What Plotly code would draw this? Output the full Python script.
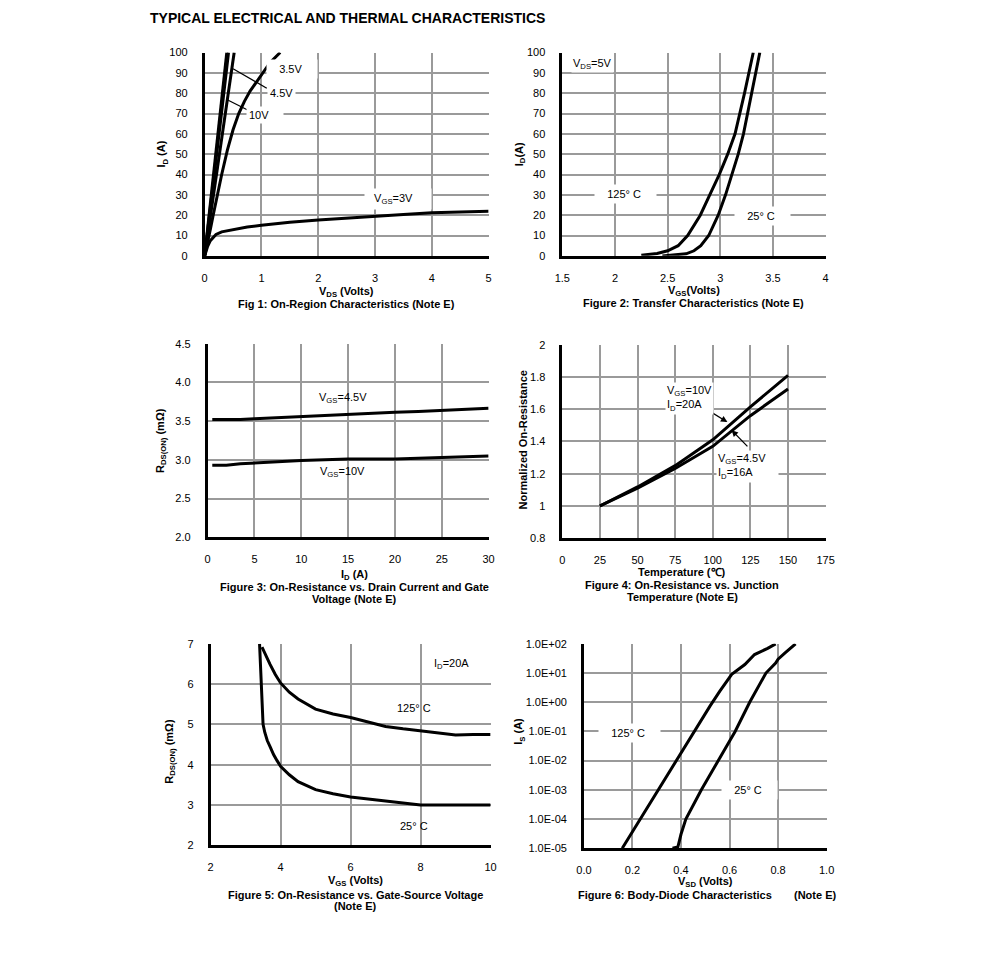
import plotly.graph_objects as go

W, H = 991, 955          # browser window
M = 8                    # default page body margin
FW, FH = W - 2 * M, H - 2 * M   # figure size so the page does not overflow
FONT = "Liberation Sans, Arial, sans-serif"

# ---------------- data ----------------
# Fig 1: On-region characteristics
f1_vds_3v = [0, 0.05, 0.1, 0.2, 0.3, 0.5, 0.75, 1.0, 1.5, 2, 2.5, 3, 3.5, 4, 4.5, 5]
f1_id_3v = [0, 4.5, 7.5, 10.5, 11.8, 13.0, 14.2, 15.0, 16.5, 17.6, 18.6, 19.5, 20.4, 21.2, 21.7, 22.0]
f1_vds_35v = [0, 0.05, 0.1, 0.15, 0.2, 0.3, 0.4, 0.5, 0.6, 0.7, 0.8, 0.9, 1.0, 1.15, 1.33]
f1_id_35v = [0, 6, 13, 20, 27, 40, 52, 62, 70, 76, 81, 85, 89, 95, 100]
f1_vds_45v = [0, 0.1, 0.2, 0.3, 0.4, 0.52]
f1_id_45v = [0, 19, 39, 58, 77, 100]
f1_vds_6v = [0, 0.1, 0.2, 0.3, 0.42]
f1_id_6v = [0, 23, 47, 71, 100]
f1_vds_10v = [0, 0.1, 0.2, 0.3, 0.39]
f1_id_10v = [0, 25, 51, 77, 100]

# Fig 2: Transfer characteristics
f2_vgs_125 = [2.25, 2.4, 2.5, 2.6, 2.69, 2.81, 2.9, 2.99, 3.07, 3.14, 3.23, 3.313]
f2_id_125 = [0.3, 1.2, 2.5, 5, 10, 20, 30, 40, 50, 60, 80, 100]
f2_vgs_25 = [2.45, 2.52, 2.6, 2.675, 2.75, 2.815, 2.89, 2.98, 3.05, 3.11, 3.17, 3.22, 3.30, 3.375]
f2_id_25 = [0, 0.3, 0.6, 1, 2.5, 5, 10, 20, 30, 40, 50, 60, 80, 100]

# Fig 3: On-resistance vs drain current
f3_id = [0.5, 2, 3.5, 5, 7.5, 10, 12.5, 15, 17.5, 20, 22.5, 25, 27.5, 30]
f3_r_45v = [3.52, 3.52, 3.52, 3.53, 3.545, 3.56, 3.575, 3.59, 3.60, 3.615, 3.625, 3.64, 3.65, 3.665]
f3_r_10v = [2.93, 2.93, 2.95, 2.96, 2.975, 2.99, 3.0, 3.01, 3.01, 3.01, 3.02, 3.03, 3.04, 3.05]

# Fig 4: Normalized on-resistance vs temperature
f4_temp = [25, 50, 75, 100, 125, 150]
f4_n_10v = [1.0, 1.118, 1.25, 1.41, 1.615, 1.81]
f4_n_45v = [1.0, 1.11, 1.232, 1.37, 1.56, 1.725]

# Fig 5: On-resistance vs gate-source voltage
f5_vgs_25 = [3.40, 3.44, 3.47, 3.50, 3.55, 3.62, 3.7, 3.8, 3.9, 4.0, 4.25, 4.5, 5.0, 5.5, 6.0, 7.0, 8.0, 9.0, 10.0]
f5_r_25 = [7.0, 6.3, 5.7, 5.0, 4.8, 4.6, 4.45, 4.25, 4.1, 3.96, 3.75, 3.58, 3.38, 3.28, 3.2, 3.1, 3.0, 3.0, 3.0]
f5_vgs_125 = [3.47, 3.6, 3.7, 3.85, 4.0, 4.25, 4.5, 5.0, 5.5, 6.0, 6.5, 7.0, 7.5, 8.0, 8.5, 9.0, 9.5, 10.0]
f5_r_125 = [6.92, 6.67, 6.49, 6.24, 6.03, 5.8, 5.63, 5.38, 5.26, 5.17, 5.06, 4.95, 4.89, 4.84, 4.78, 4.74, 4.75, 4.75]

# Fig 6: Body-diode characteristics
f6_vsd_125 = [0.158, 0.232, 0.306, 0.38, 0.454, 0.52, 0.56, 0.609, 0.663, 0.703, 0.757, 0.79]
f6_is_125 = [1e-5, 1e-4, 1e-3, 1e-2, 0.1, 0.75, 2.4, 9, 19.6, 43, 70, 100]
f6_vsd_25 = [0.365, 0.387, 0.40, 0.42, 0.484, 0.555, 0.623, 0.683, 0.75, 0.79, 0.80, 0.83, 0.86, 0.872]
f6_is_25 = [1e-5, 1.1e-5, 3e-5, 1e-4, 1e-3, 1e-2, 0.1, 1, 10, 22, 30, 50, 80, 100]
f6_ytickvals = [1e-5, 1e-4, 1e-3, 1e-2, 1e-1, 1e0, 1e1, 1e2]
f6_yticktext = ["1.0E-05", "1.0E-04", "1.0E-03", "1.0E-02", "1.0E-01", "1.0E+00", "1.0E+01", "1.0E+02"]

# ---------------- layout helpers ----------------
def fx(px):
    return (px - M) / FW

def fy(py):
    return 1 - (py - M) / FH

# plot-area boxes in window pixels: (left, right, top, bottom)
boxes = {
    1: (200, 489, 47, 253),
    2: (564, 832, 47, 253),
    3: (203, 489, 342, 538),
    4: (564, 832, 343, 539),
    5: (206, 491, 646, 850),
    6: (586, 833, 646, 853),
}

fig = go.Figure()
LW = 3

def add_line(n, x, y, name):
    fig.add_trace(go.Scatter(x=x, y=y, mode="lines", name=name,
                             line=dict(color="black", width=LW),
                             xaxis=f"x{n}", yaxis=f"y{n}", showlegend=False,
                             hoverinfo="skip"))

add_line(1, f1_vds_3v, f1_id_3v, "3V")
add_line(1, f1_vds_35v, f1_id_35v, "3.5V")
add_line(1, f1_vds_45v, f1_id_45v, "4.5V")
add_line(1, f1_vds_6v, f1_id_6v, "6V")
add_line(1, f1_vds_10v, f1_id_10v, "10V")
add_line(2, f2_vgs_125, f2_id_125, "125C")
add_line(2, f2_vgs_25, f2_id_25, "25C")
add_line(3, f3_id, f3_r_45v, "4.5V")
add_line(3, f3_id, f3_r_10v, "10V")
add_line(4, f4_temp, f4_n_10v, "10V")
add_line(4, f4_temp, f4_n_45v, "4.5V")
add_line(5, f5_vgs_25, f5_r_25, "25C")
add_line(5, f5_vgs_125, f5_r_125, "125C")
add_line(6, f6_vsd_125, f6_is_125, "125C")
add_line(6, f6_vsd_25, f6_is_25, "25C")

GRID = "#9a9a9a"
TICKFONT = dict(family=FONT, size=11, color="black")

def axes(n, xr, xd, yr, yd, xfmt=None, yfmt=None, ylog=False, ytv=None, ytt=None):
    l, r, t, b = boxes[n]
    xa = dict(domain=[fx(l), fx(r)], range=xr, dtick=xd, tick0=xr[0],
              showgrid=True, gridcolor=GRID, gridwidth=1.6,
              showline=True, linecolor="black", linewidth=2.5,
              zeroline=False, ticks="", tickfont=TICKFONT,
              anchor=f"y{n}", fixedrange=True, ticklabelstandoff=10)
    ya = dict(domain=[fy(b), fy(t)], range=yr,
              showgrid=True, gridcolor=GRID, gridwidth=1.6,
              showline=True, linecolor="black", linewidth=2.5,
              zeroline=False, ticks="", tickfont=TICKFONT,
              anchor=f"x{n}", fixedrange=True, ticklabelstandoff=12)
    if xfmt:
        xa["tickformat"] = xfmt
    if ylog:
        ya["type"] = "log"
        ya["tickvals"] = ytv
        ya["ticktext"] = ytt
    else:
        ya["dtick"] = yd
        ya["tick0"] = yr[0]
    if yfmt:
        ya["tickformat"] = yfmt
    key = "" if n == 1 else str(n)
    fig.update_layout(**{f"xaxis{key}": xa, f"yaxis{key}": ya})

axes(1, [0, 5], 1, [0, 100], 10)
axes(2, [1.5, 4], 0.5, [0, 100], 10)
axes(3, [0, 30], 5, [2.0, 4.5], 0.5, yfmt=".1f")
axes(4, [0, 175], 25, [0.8, 2.0], 0.2)
axes(5, [2, 10], 2, [2, 7], 1)
axes(6, [0, 1.0], 0.2, [-5, 2], None, xfmt=".1f", ylog=True, ytv=f6_ytickvals, ytt=f6_yticktext)

ann = []

def label(n, x, y, text, bg=True, xanchor="center", align="center", pad=3):
    ann.append(dict(x=x, y=y, xref=f"x{n}", yref=f"y{n}", text=text, showarrow=False,
                    font=dict(family=FONT, size=11, color="black"),
                    bgcolor="white" if bg else None, borderpad=pad,
                    xanchor=xanchor, align=align))

def paper_text(px, py, text, size=11, bold=True, angle=0, xanchor="center"):
    ann.append(dict(x=fx(px), y=fy(py), xref="paper", yref="paper",
                    text=f"<b>{text}</b>" if bold else text, showarrow=False,
                    textangle=angle, xanchor=xanchor, yanchor="middle",
                    font=dict(family=FONT, size=size, color="black")))

# Fig 1 labels
label(1, 1.54, 91.7, "&nbsp;&nbsp;&nbsp;3.5V&nbsp;&nbsp;&nbsp;&nbsp;")
ann.append(dict(x=0.50, y=92, ax=1.12, ay=82, xref="x1", yref="y1", axref="x1", ayref="y1",
                showarrow=True, arrowhead=0, arrowwidth=1.3, arrowcolor="black", text=""))
ann.append(dict(x=0.38, y=77, ax=0.88, ay=70, xref="x1", yref="y1", axref="x1", ayref="y1",
                showarrow=True, arrowhead=0, arrowwidth=1.3, arrowcolor="black", text=""))
label(1, 1.35, 80, "4.5V", pad=2)
label(1, 1.07, 69.4, "10V&nbsp;&nbsp;&nbsp;&nbsp;", pad=2)
label(1, 3.41, 28, "&nbsp;&nbsp;V<sub>GS</sub>=3V&nbsp;&nbsp;&nbsp;&nbsp;&nbsp;")

# Fig 2 labels
label(2, 1.79, 94.5, "V<sub>DS</sub>=5V", pad=1)
label(2, 2.10, 30.6, "&nbsp;&nbsp;&nbsp;125° C&nbsp;&nbsp;&nbsp;&nbsp;")
label(2, 3.40, 19.4, "&nbsp;&nbsp;&nbsp;25° C&nbsp;&nbsp;&nbsp;&nbsp;")

# Fig 3 labels
label(3, 14.45, 3.80, "V<sub>GS</sub>=4.5V", bg=False)
label(3, 14.45, 2.84, "V<sub>GS</sub>=10V", bg=False)

# Fig 4 labels and arrows
ann.append(dict(x=109.7, y=1.52, ax=95, ay=1.605, xref="x4", yref="y4", axref="x4", ayref="y4",
                showarrow=True, arrowhead=2, arrowsize=1, arrowwidth=1.3, arrowcolor="black", text=""))
ann.append(dict(x=112.5, y=1.47, ax=124, ay=1.36, xref="x4", yref="y4", axref="x4", ayref="y4",
                showarrow=True, arrowhead=2, arrowsize=1, arrowwidth=1.3, arrowcolor="black", text=""))
label(4, 68, 1.665, "V<sub>GS</sub>=10V<br>I<sub>D</sub>=20A", xanchor="left", align="left", pad=1)
label(4, 102, 1.245, "V<sub>GS</sub>=4.5V<br>I<sub>D</sub>=16A&nbsp;&nbsp;&nbsp;&nbsp;&nbsp;&nbsp;&nbsp;&nbsp;", xanchor="left", align="left", pad=1)

# Fig 5 labels
label(5, 8.88, 6.51, "I<sub>D</sub>=20A", bg=False)
label(5, 7.81, 5.41, "125° C", bg=False)
label(5, 7.81, 2.47, "25° C", bg=False)

# Fig 6 labels
label(6, 0.186, -1.04, "&nbsp;&nbsp;&nbsp;125° C&nbsp;&nbsp;&nbsp;&nbsp;")
label(6, 0.684, -3.0, "&nbsp;&nbsp;&nbsp;25° C&nbsp;&nbsp;&nbsp;&nbsp;")

# Main title
paper_text(142, 12, "TYPICAL ELECTRICAL AND THERMAL CHARACTERISTICS", size=14, xanchor="left")

# Axis titles and captions
paper_text(344, 290, "V<sub>DS</sub> (Volts)")
paper_text(344, 302, "Fig 1: On-Region Characteristics (Note E)")
paper_text(157, 150, "I<sub>D</sub> (A)", angle=-90)

paper_text(698, 289, "V<sub>GS</sub>(Volts)")
paper_text(698, 301, "Figure 2: Transfer Characteristics (Note E)")
paper_text(521, 150, "I<sub>D</sub>(A)", angle=-90)

paper_text(352, 576, "I<sub>D</sub> (A)")
paper_text(352, 588, "Figure 3: On-Resistance vs. Drain Current and Gate")
paper_text(352, 601, "Voltage (Note E)")
paper_text(156, 440, "R<sub>DS(ON)</sub> (mΩ)", angle=-90)

paper_text(686, 573, "Temperature (℃)")
paper_text(686, 586, "Figure 4: On-Resistance vs. Junction")
paper_text(686, 599, "Temperature (Note E)")
paper_text(524, 440, "Normalized On-Resistance", angle=-90)

paper_text(354, 886, "V<sub>GS</sub> (Volts)")
paper_text(354, 900, "Figure 5: On-Resistance vs. Gate-Source Voltage")
paper_text(354, 912, "(Note E)")
paper_text(165, 755, "R<sub>DS(ON)</sub> (mΩ)", angle=-90)

paper_text(710, 887, "V<sub>SD</sub> (Volts)")
paper_text(679, 900, "Figure 6: Body-Diode Characteristics")
paper_text(822, 900, "(Note E)")
paper_text(520, 735, "I<sub>S</sub> (A)", angle=-90)

fig.update_layout(
    width=FW, height=FH, autosize=False,
    margin=dict(l=0, r=0, t=0, b=0),
    paper_bgcolor="white", plot_bgcolor="white",
    font=dict(family=FONT, size=11, color="black"),
    showlegend=False,
    annotations=ann,
)

fig.write_html("out.html", config={"displayModeBar": False})
